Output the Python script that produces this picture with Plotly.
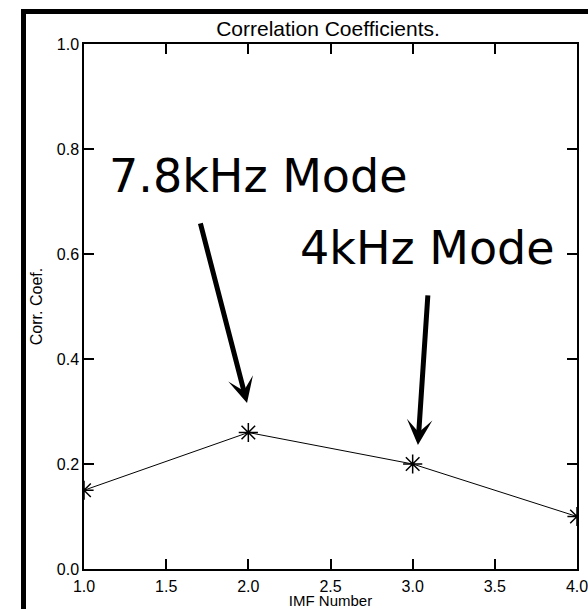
import plotly.graph_objects as go

# IMF correlation coefficients
imf_number = [1, 2, 3, 4]
corr_coef = [0.15, 0.26, 0.20, 0.10]

x_ticks = [1.0, 1.5, 2.0, 2.5, 3.0, 3.5, 4.0]
y_ticks = [0.0, 0.2, 0.4, 0.6, 0.8, 1.0]

# Mode callouts: label text, label position, arrow tail and arrow tip
mode_labels = ["7.8kHz Mode", "4kHz Mode"]
label_x = [2.059, 3.090]
label_y = [0.749, 0.611]
arrow_tail_x = [1.706, 3.093]
arrow_tail_y = [0.661, 0.524]
arrow_tip_x = [1.992, 3.032]
arrow_tip_y = [0.316, 0.236]

W, H = 588, 609
# plot area in pixels (left, right, top, bottom)
PL, PR, PT, PB = 84, 577, 44, 569

fig = go.Figure()
fig.add_trace(go.Scatter(
    x=imf_number, y=corr_coef,
    mode="lines+markers",
    line=dict(color="black", width=1),
    marker=dict(symbol="asterisk-open", size=16,
                line=dict(color="black", width=1.5)),
    cliponaxis=True,
    showlegend=False,
    hoverinfo="skip",
))

# heavy outer frame (left and top edges) on a page-sized pixel overlay
fig.add_trace(go.Scatter(
    x=[23.5, 23.5, W + 10], y=[H + 10, 11.5, 11.5],
    xaxis="x2", yaxis="y2",
    mode="lines", line=dict(color="black", width=5),
    showlegend=False, hoverinfo="skip",
))

annotations = []
for i, txt in enumerate(mode_labels):
    annotations.append(dict(
        x=label_x[i], y=label_y[i], xref="x", yref="y",
        text=txt, showarrow=False,
        xanchor="center", yanchor="middle",
        font=dict(family="DejaVu Sans", size=46, color="black"),
    ))
    annotations.append(dict(
        x=arrow_tip_x[i], y=arrow_tip_y[i], xref="x", yref="y",
        ax=arrow_tail_x[i], ay=arrow_tail_y[i], axref="x", ayref="y",
        text="", showarrow=True,
        arrowhead=3, arrowsize=0.85, arrowwidth=5, arrowcolor="black",
        standoff=0,
    ))

# with zero margins, paper coordinates span the whole page
def fx(px):
    return px / W

def fy(py):
    return 1 - py / H

axis_font = dict(family="Liberation Sans, Arial, sans-serif", size=16, color="black")

fig.update_layout(
    width=W, height=H,
    margin=dict(l=0, r=0, t=0, b=0, autoexpand=False),
    paper_bgcolor="white", plot_bgcolor="rgba(0,0,0,0)",
    title=dict(text="Correlation Coefficients.", x=fx(328), xref="paper",
               y=1 - 29 / H, yref="container", xanchor="center", yanchor="middle",
               font=dict(family="Liberation Sans, Arial, sans-serif", size=21, color="black")),
    xaxis=dict(
        domain=[fx(PL), fx(PR)],
        range=[1, 4], tickvals=x_ticks, ticktext=[f"{v:.1f}" for v in x_ticks],
        ticks="inside", ticklen=10, tickwidth=1.5, tickcolor="black",
        showline=True, linecolor="black", linewidth=1.5, mirror="ticks",
        showgrid=False, zeroline=False, tickfont=axis_font,
        ticklabelstandoff=2, ticklabeloverflow="allow",
        title=dict(text="IMF Number", font=dict(family="Liberation Sans, Arial, sans-serif",
                                                size=15, color="black"), standoff=0),
        automargin=False,
    ),
    yaxis=dict(
        domain=[fy(PB), fy(PT)],
        range=[0, 1], tickvals=y_ticks, ticktext=[f"{v:.1f}" for v in y_ticks],
        ticks="inside", ticklen=10, tickwidth=1.5, tickcolor="black",
        showline=True, linecolor="black", linewidth=1.5, mirror="ticks",
        showgrid=False, zeroline=False, tickfont=axis_font,
        ticklabeloverflow="allow",
        title=dict(text="Corr. Coef.", font=axis_font, standoff=10),
        automargin=False,
    ),
    xaxis2=dict(domain=[0, 1], range=[0, W], anchor="y2", visible=False,
                fixedrange=True),
    yaxis2=dict(domain=[0, 1], range=[H, 0], anchor="x2", visible=False,
                fixedrange=True),
    annotations=annotations,
)

fig.write_html("out.html", config={"displayModeBar": False})
